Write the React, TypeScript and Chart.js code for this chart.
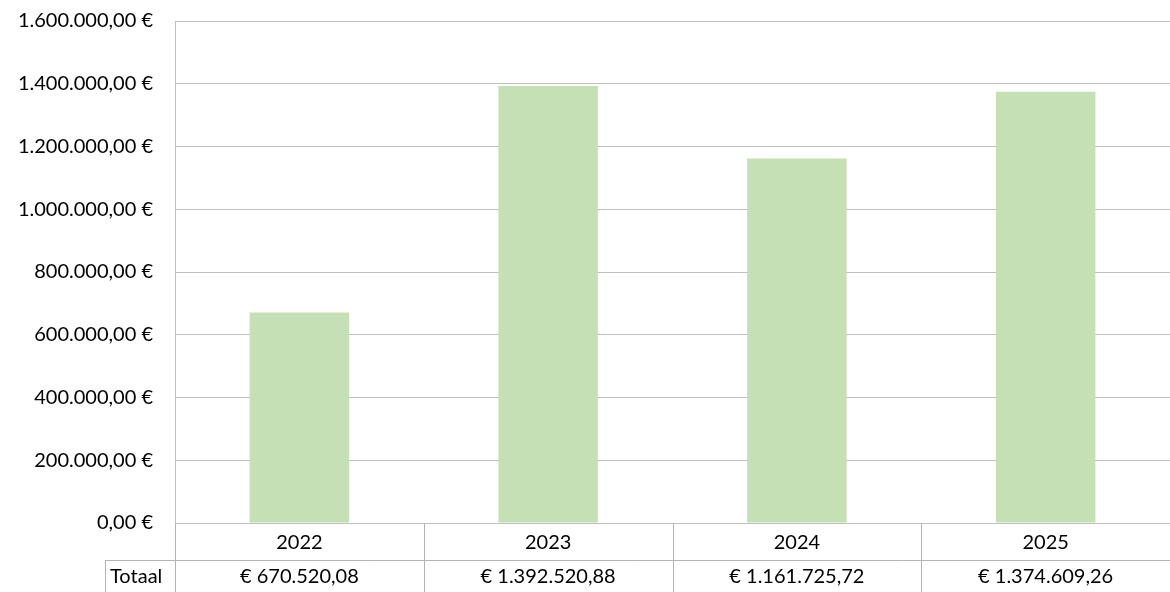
import React, { useEffect, useRef } from "react";
import { Chart, registerables } from "chart.js";

Chart.register(...registerables);

const categories = ["2022", "2023", "2024", "2025"];
const totals = [670520.08, 1392520.88, 1161725.72, 1374609.26];
const totalLabels = ["€ 670.520,08", "€ 1.392.520,88", "€ 1.161.725,72", "€ 1.374.609,26"];
const rowLabel = "Totaal";

const FONT = "Lato, 'Open Sans', sans-serif";
const FONT_SIZE = 20;
const TEXT = "#000000";
const GRID = "#bfbfbf";
const TABLE_LINE = "#b3b3b3";

function fmtEuro(v: number): string {
  const fixed = Math.abs(v).toFixed(2);
  const [int, dec] = fixed.split(".");
  const withDots = int.replace(/\B(?=(\d{3})+(?!\d))/g, ".");
  return withDots + "," + dec + " €";
}

const dataTablePlugin = {
  id: "dataTable",
  afterDraw(chart: any) {
    const { ctx, chartArea } = chart;
    const x = chart.scales.x;
    const n = categories.length;
    const left = chartArea.left;
    const right = chartArea.right;
    const top = chartArea.bottom;
    const rowH = 37;
    const mid = top + rowH;
    const bottom = chart.height + 2;
    const step = (right - left) / n;
    ctx.save();
    ctx.strokeStyle = TABLE_LINE;
    ctx.lineWidth = 1;
    for (let i = 0; i < n; i++) {
      const bx = Math.round(left + step * i) + 0.5;
      ctx.beginPath();
      ctx.moveTo(bx, top);
      ctx.lineTo(bx, bottom);
      ctx.stroke();
    }
    const labelLeft = left - 70;
    ctx.beginPath();
    ctx.moveTo(Math.round(labelLeft) + 0.5, mid);
    ctx.lineTo(Math.round(labelLeft) + 0.5, bottom);
    ctx.stroke();
    ctx.beginPath();
    ctx.moveTo(labelLeft, Math.round(mid) + 0.5);
    ctx.lineTo(right, Math.round(mid) + 0.5);
    ctx.stroke();
    ctx.fillStyle = TEXT;
    ctx.font = FONT_SIZE + "px " + FONT;
    ctx.textBaseline = "middle";
    ctx.textAlign = "center";
    for (let i = 0; i < n; i++) {
      const cx = x.getPixelForValue(i);
      ctx.fillText(categories[i], cx, top + rowH / 2 + 1);
      ctx.fillText(totalLabels[i], cx, mid + (bottom - mid) / 2);
    }
    ctx.textAlign = "left";
    ctx.fillText(rowLabel, labelLeft + 5, mid + (bottom - mid) / 2);
    ctx.restore();
  },
};

export default function App() {
  const ref = useRef<HTMLCanvasElement>(null);
  useEffect(() => {
    document.body.style.margin = "0";
    const chart = new Chart(ref.current!, {
      type: "bar",
      data: {
        labels: categories,
        datasets: [
          {
            label: rowLabel,
            data: totals,
            backgroundColor: "#c5e0b4",
            borderWidth: 0,
            barPercentage: 0.4,
            categoryPercentage: 1,
          },
        ],
      },
      options: {
        animation: false,
        responsive: false,
        maintainAspectRatio: false,
        layout: { padding: { top: 21, bottom: 69, left: 0, right: 0 } },
        plugins: {
          legend: { display: false },
          tooltip: { enabled: false },
        },
        scales: {
          x: {
            display: false,
          },
          y: {
            min: 0,
            max: 1600000,
            afterFit(scale: any) {
              scale.width = 175;
              scale.paddingTop = 0;
              scale.paddingBottom = 0;
            },
            border: { display: true, color: GRID, width: 1 },
            grid: { color: GRID, drawTicks: false, lineWidth: 1 },
            ticks: {
              stepSize: 200000,
              padding: 22,
              color: TEXT,
              font: { family: FONT, size: FONT_SIZE },
              callback: (v: any) => fmtEuro(Number(v)),
            },
          },
        },
      },
      plugins: [dataTablePlugin],
    });
    return () => chart.destroy();
  }, []);
  return (
    <div style={{ position: "absolute", left: 0, top: 0, width: 1170, height: 592 }}>
      <canvas ref={ref} width={1170} height={592} style={{ display: "block" }} />
    </div>
  );
}
